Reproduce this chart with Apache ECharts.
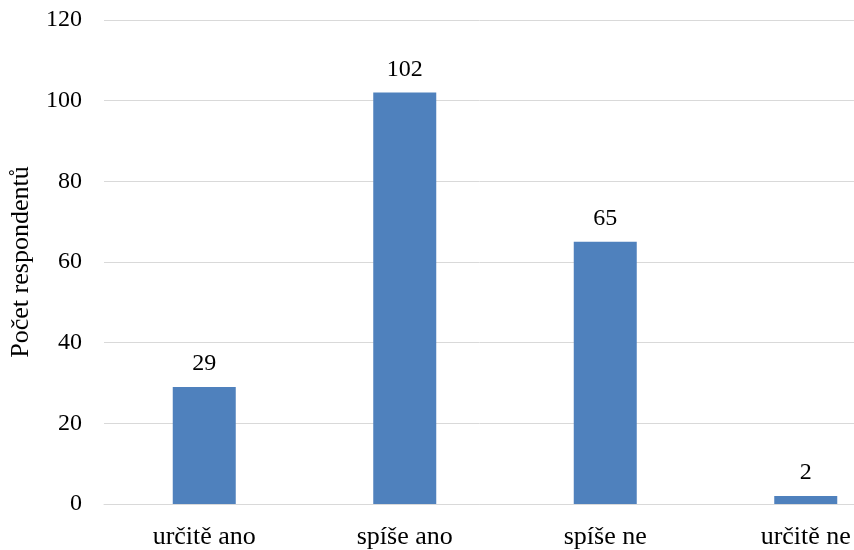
<!DOCTYPE html>
<html>
<head>
<meta charset="utf-8">
<script src="https://cdn.jsdelivr.net/npm/echarts@6/dist/echarts.min.js"></script>
<style>html,body{margin:0;padding:0;background:#fff}#c{width:854px;height:550px}</style>
</head>
<body>
<div id="c"></div>
<script>
const categories = ["určitě ano", "spíše ano", "spíše ne", "určitě ne"];
const values = [29, 102, 65, 2];
const yTicks = [0, 20, 40, 60, 80, 100, 120];
const yName = "Počet respondentů";

const chart = echarts.init(document.getElementById('c'));
const font = '"Liberation Serif", "Times New Roman", serif';
chart.setOption({
  animation: false,
  grid: { left: 104, right: -52, top: 20, bottom: 46, containLabel: false, outerBoundsMode: 'none' },
  xAxis: {
    type: 'category',
    data: categories,
    axisLine: { lineStyle: { color: '#d9d9d9', width: 1 } },
    axisTick: { show: false },
    axisLabel: { fontFamily: font, fontSize: 26, color: '#000', margin: 20 }
  },
  yAxis: {
    type: 'value',
    min: yTicks[0],
    max: yTicks[yTicks.length - 1],
    interval: 20,
    name: yName,
    nameLocation: 'middle',
    nameGap: 70,
    nameTextStyle: { fontFamily: font, fontSize: 26, color: '#000' },
    axisLine: { show: false },
    axisTick: { show: false },
    splitLine: { lineStyle: { color: '#d9d9d9', width: 1 } },
    axisLabel: { fontFamily: font, fontSize: 24, color: '#000', margin: 22 }
  },
  series: [{
    type: 'bar',
    data: values,
    barWidth: 63,
    itemStyle: { color: '#4f81bd' },
    label: { show: true, position: 'top', distance: 11, fontFamily: font, fontSize: 24, color: '#000' }
  }]
});
</script>
</body>
</html>
